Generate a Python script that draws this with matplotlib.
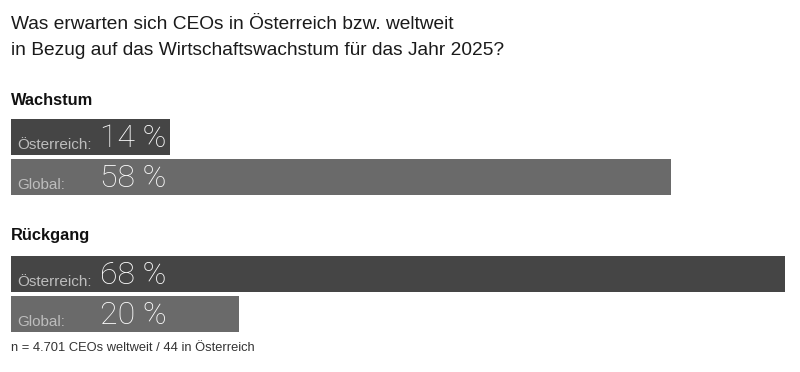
import matplotlib
matplotlib.use('Agg')
import matplotlib.pyplot as plt

plt.rcParams['font.family'] = ['Liberation Sans', 'DejaVu Sans']

# data
groups = ['Wachstum', 'Rückgang']
regions = ['Österreich:', 'Global:']
values = {
    'Wachstum': [14, 58],
    'Rückgang': [68, 20],
}
title_lines = ['Was erwarten sich CEOs in Österreich bzw. weltweit',
               'in Bezug auf das Wirtschaftswachstum für das Jahr 2025?']
footnote = 'n = 4.701 CEOs weltweit / 44 in Österreich'

bar_colors = ['#454545', '#6a6a6a']
W, H = 800, 372
px_per_pct = 11.38
x0 = 11

fig = plt.figure(figsize=(W / 100, H / 100), dpi=100)
ax = fig.add_axes([0, 0, 1, 1])
ax.set_xlim(-x0 / px_per_pct, (W - x0) / px_per_pct)
ax.set_ylim(H, 0)
ax.axis('off')

# vertical layout in pixel rows
header_base = {'Wachstum': 105, 'Rückgang': 240}
bar_top = {'Wachstum': 119, 'Rückgang': 256}
bar_h = 36
gap = 40

for i, line in enumerate(title_lines):
    fig.text(x0 / W, 1 - (29 + 26 * i) / H, line, ha='left', va='baseline',
             fontsize=13.75, color='#1a1a1a')

for g in groups:
    ax.text(0, header_base[g], g, ha='left', va='baseline',
            fontsize=11.8, fontweight='bold', color='#111111')
    for i, (reg, v) in enumerate(zip(regions, values[g])):
        yc = bar_top[g] + i * gap + bar_h / 2
        ax.barh(yc, v, height=bar_h, left=0, color=bar_colors[i], edgecolor='none')
        ax.text(6 / px_per_pct, yc + 12, reg, ha='left', va='baseline',
                fontsize=11, color='#bdbdbd')
        ax.text(89 / px_per_pct, yc + 10, f'{v} %', ha='left', va='baseline',
                fontsize=23, color='white', family=['Roboto', 'Liberation Sans'],
                fontweight='light')

fig.text(x0 / W, 1 - 351 / H, footnote, ha='left', va='baseline', fontsize=9.3,
         color='#333333')

fig.savefig('out.png', dpi=100)
